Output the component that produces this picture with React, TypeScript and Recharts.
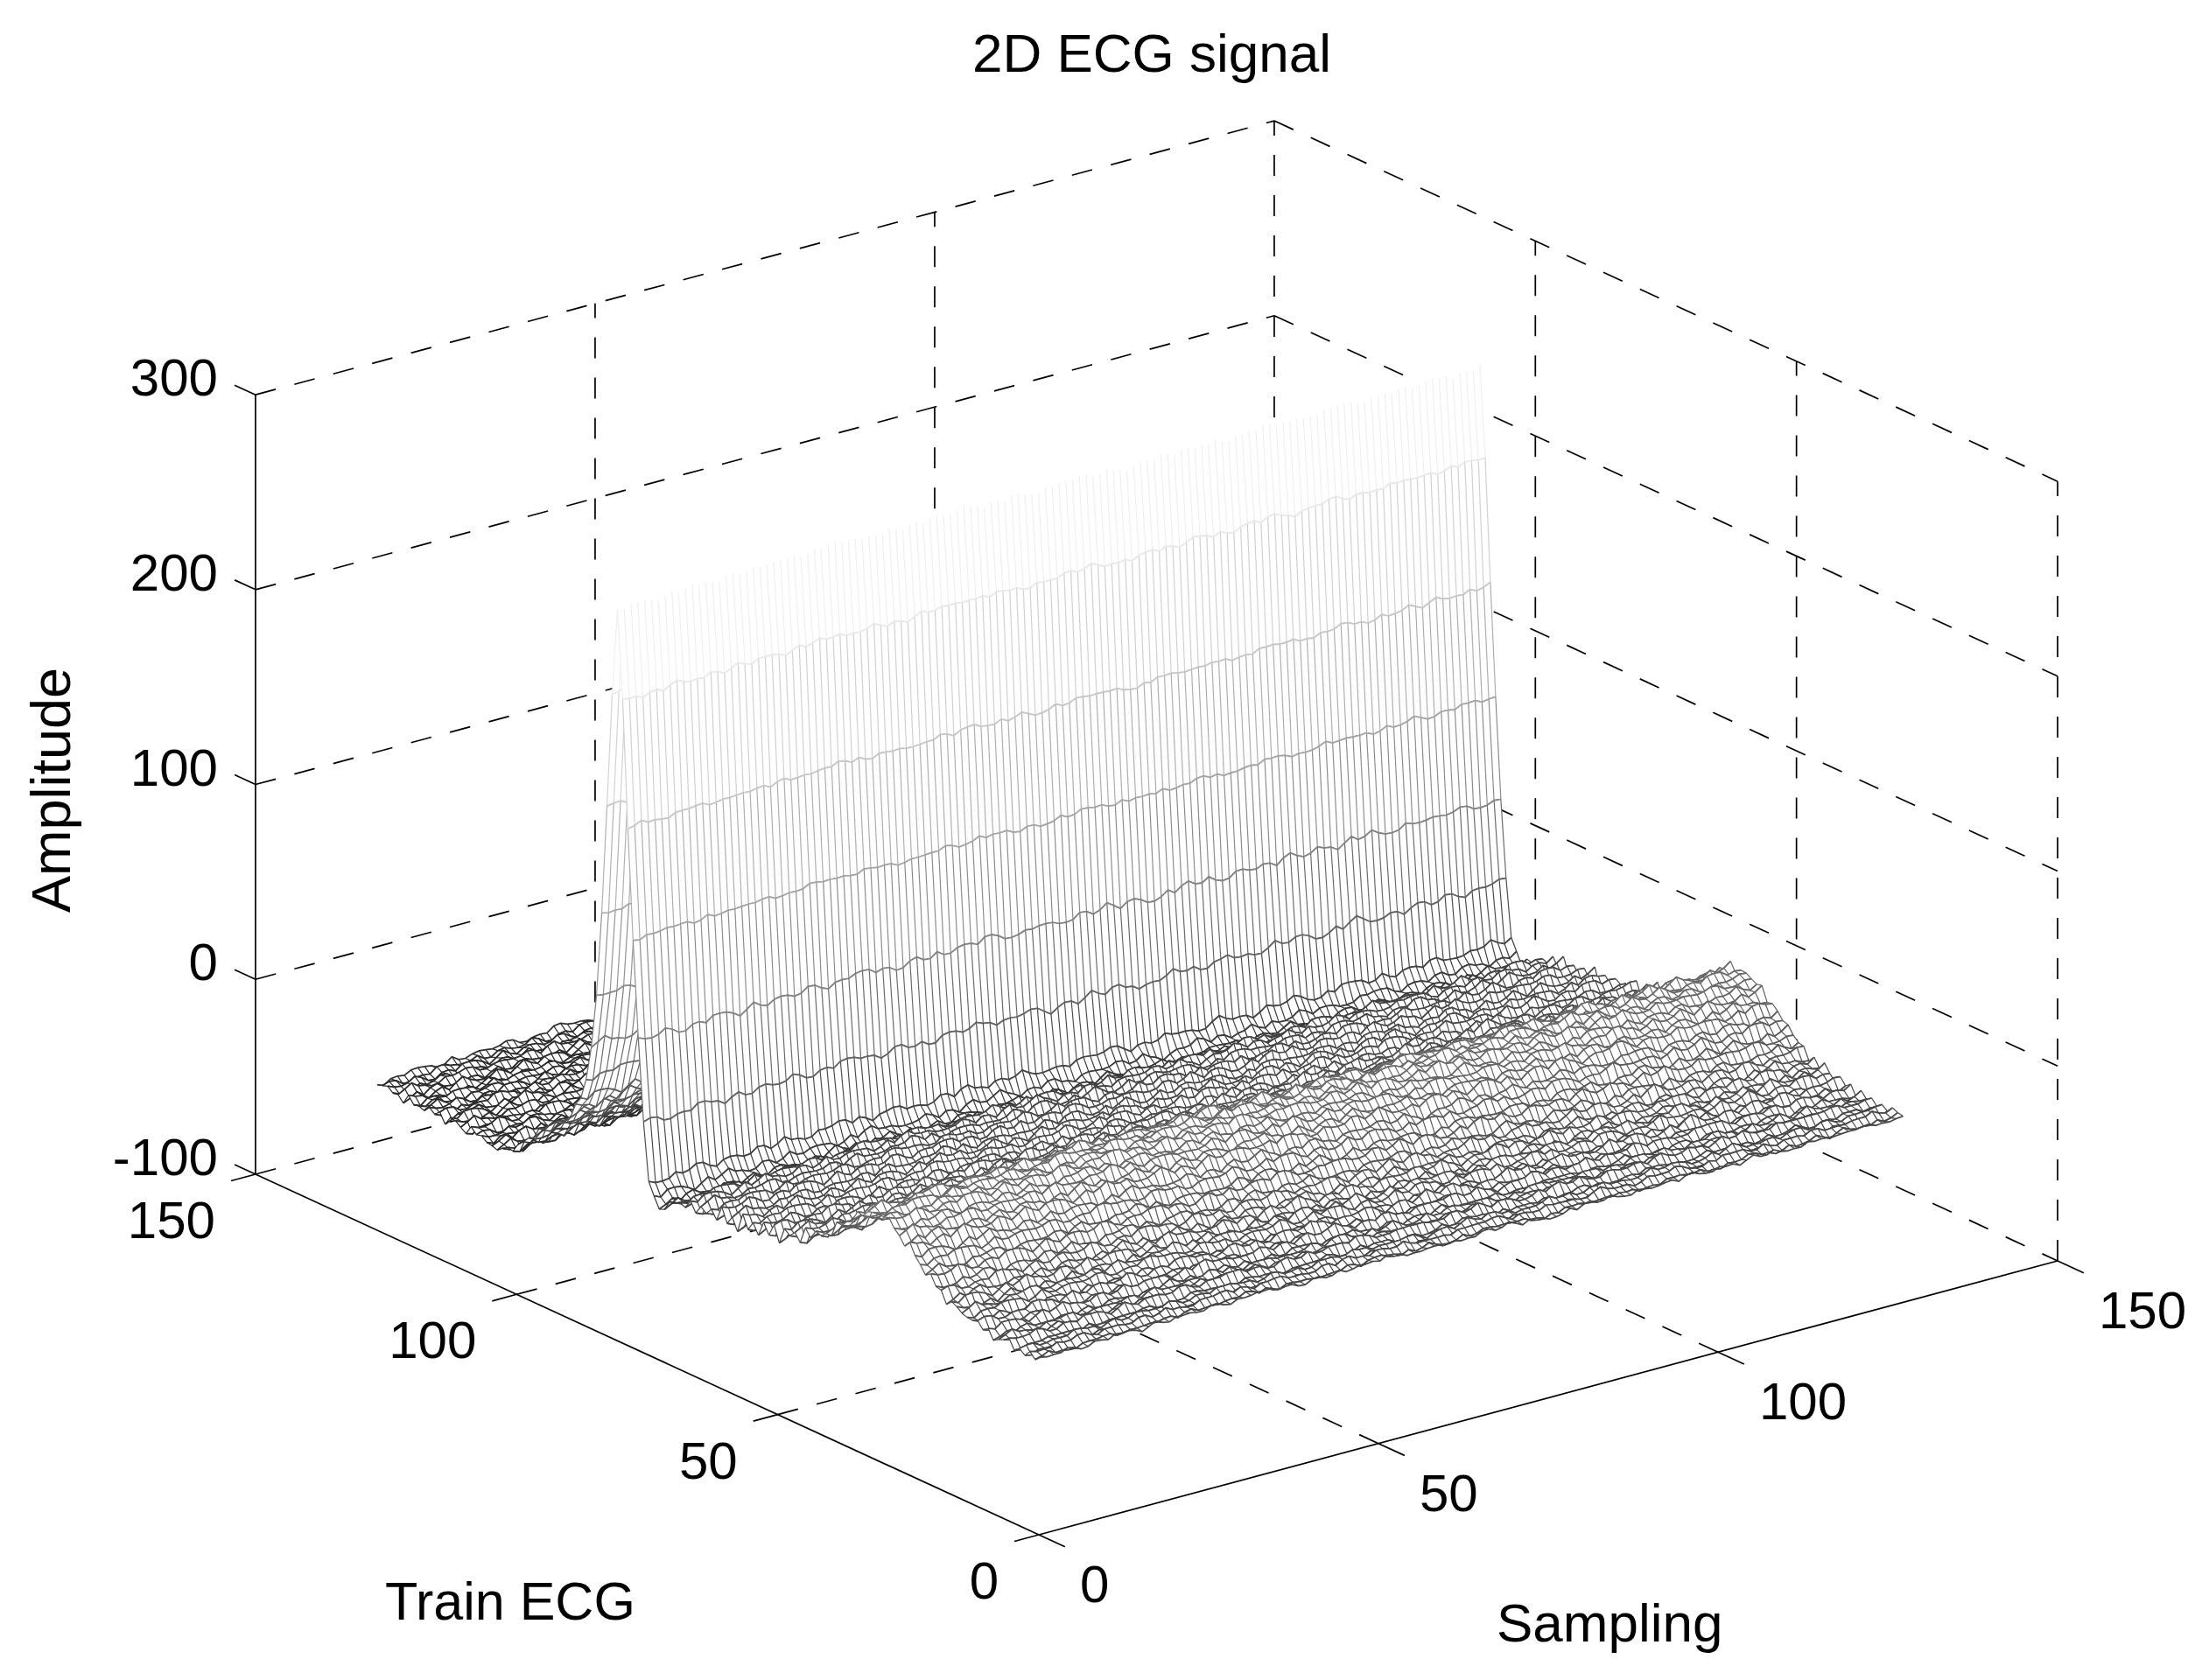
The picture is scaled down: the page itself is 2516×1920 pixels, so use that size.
import React from 'react'
import { ScatterChart, Scatter, XAxis, YAxis } from 'recharts'

const W = 2516
const H = 1920

// amplitude across the train axis, index 0 = train 1 ... index 127 = train 128
const trainProfile = [
  -9, -10, -8, -11, -9, -10, -7, -9, -8, -9, -6, -8, -5, -7, -4, -3, -4, -1, -1, 2,
  3, 7, 8, 12, 14, 18, 19, 22, 23, 26, 26, 28, 25, 27, 22, 23, 17, 17, 11, 11,
  6, 7, 2, 3, -2, 1, -5, -1, -7, -3, -9, -4, -10, -6, -11, -6, -12, -7, -13, -8,
  -14, -8, -15, -9, -15, -10, -16, -11, -16, -13, -17, -18, -20, -20, -17, -11, 18, 59, 110, 166,
  230, 276, 232, 172, 116, 72, 46, 28, 16, 10, 6, 2, -1, -4, -6, -8, -11, -14, -17, -20,
  -23, -26, -28, -30, -29, -27, -29, -27, -28, -26, -28, -26, -27, -25, -27, -25, -27, -26, -26, -25,
  -27, -25, -26, -24, -26, -25, -25, -24,
]

// slow change along the sampling axis, index 0 = sample 1
const sampleDrift = [
  -3, -3, -2, -3, -2, -2, -3, -2, -1, -2, -2, -1, -2, -1, -1, -2, -1, 0, -1, -1,
  0, -1, 0, 0, -1, 0, 1, 0, 0, 1, 0, 1, 1, 0, 1, 0, 0, 1, 0, -1,
  0, 0, -1, 0, 1, 0, 1, 1, 0, 1, 1, 2, 1, 1, 0, 1, 0, 0, 1, 0,
  -1, 0, 0, 1, 0, 1, 2, 1, 1, 2, 1, 0, 1, 0, 0, -1, 0, 0, 1, 0,
  1, 1, 0, 1, 2, 1, 1, 0, 1, 0, 0, 1, 1, 2, 1, 2, 2, 1, 1, 0,
  1, 1, 2, 1, 2, 3, 2, 1, 2, 1, 1, 2, 1, 2, 2, 3, 2, 1, 2, 3,
  2, 2, 3, 2, 3, 2, 2, 3,
]

// small stair-like wiggle seen in the mesh rows
const sampleRipple = [
  1.2, 0.3, -0.7, 0.6, 1.4, 0.4, -0.6, -1.4, -0.4, 0.5, -0.5, 0.7, 1.5, 0.6, -0.4, -1.3,
  -0.3, 0.8, -0.1, -1, -0.1, 1, 0.1, -0.9, 0.2, 1.2, 0.3, -0.6, -1.5, -0.6, 0.4, -0.5,
  0.6, 1.6, 0.7, -0.3, 0.5, -0.5, -1.4, -0.5, 0.6, 1.3, 0.4, -0.5, 0.5, -0.4, -1.2, 0.1,
]
const rowShift = [0, 2, 5, 1, 3, 6, 0, 4, 2, 7, 1, 5, 3, 0, 6, 2, 4, 1, 7, 3, 5, 0, 2, 6, 1, 4, 7, 2, 5, 0, 3, 6]
const rowGain = [0.5, 0.5, 0.6, 0.5, 0.6, 0.6, 0.7, 0.6, 0.8, 0.7, 0.8, 0.8, 1, 1, 1, 1]

const zTicks = [-100, 0, 100, 200, 300]
const trainTicks = [0, 50, 100, 150]
const sampleTicks = [0, 50, 100, 150]

const title = '2D ECG signal'
const zLabel = 'Amplitude'
const trainLabel = 'Train ECG'
const sampleLabel = 'Sampling'

// view of the box: sampling axis, train axis and height as screen steps
const project = (s: number, t: number, z: number) => ({
  x: 1187 + 7.76 * s - 5.967 * t,
  y: 1754 - 2.087 * s - 2.747 * t - 2.227 * (z + 100),
})

const height = (ti: number, si: number) => {
  const base = trainProfile[ti]
  const gain = (base > 60 ? 0.5 : 1) * (ti < rowGain.length ? rowGain[ti] : 1) * 1.5
  const shift = rowShift[ti % rowShift.length]
  return base + sampleDrift[si] + gain * sampleRipple[(si + shift) % sampleRipple.length]
}

// edge colour follows height, dark at the floor and white at the R peak
const gray = (z: number) => {
  const f = Math.max(0, Math.min(1, (z + 25) / 300))
  const v = Math.round(255 * (0.17 + 0.83 * Math.pow(f, 0.7)))
  return `rgb(${v},${v},${v})`
}

// one band of the mesh per pair of rows, far row then near row
const strips: { key: number; far: number; near: number; points: { x: number; y: number }[] }[] = []
for (let ti = trainProfile.length - 1; ti > 0; ti--) {
  const points: { x: number; y: number }[] = []
  for (let si = 0; si < sampleDrift.length; si++) points.push(project(si + 1, ti + 1, height(ti, si)))
  for (let si = sampleDrift.length - 1; si >= 0; si--) points.push(project(si + 1, ti, height(ti - 1, si)))
  strips.push({ key: ti, far: trainProfile[ti], near: trainProfile[ti - 1], points })
}

const seg = (a: number[], b: number[]) => [project(a[0], a[1], a[2]), project(b[0], b[1], b[2])]

const dashed: { x: number; y: number }[][] = []
zTicks.forEach((z) => {
  dashed.push(seg([0, 150, z], [150, 150, z]))
  dashed.push(seg([150, 150, z], [150, 0, z]))
})
;[50, 100].forEach((v) => {
  dashed.push(seg([v, 0, -100], [v, 150, -100]))
  dashed.push(seg([0, v, -100], [150, v, -100]))
  dashed.push(seg([v, 150, -100], [v, 150, 300]))
  dashed.push(seg([150, v, -100], [150, v, 300]))
})
dashed.push(seg([150, 150, -100], [150, 150, 300]))
dashed.push(seg([150, 0, -100], [150, 0, 300]))

const solid: { x: number; y: number }[][] = [
  seg([0, 150, -100], [0, 0, -100]),
  seg([0, 0, -100], [150, 0, -100]),
  seg([0, 150, -100], [0, 150, 300]),
  ...zTicks.map((z) => seg([0, 150, z], [0, 154, z])),
  ...trainTicks.map((t) => seg([0, t, -100], [-3.6, t, -100])),
  ...sampleTicks.map((s) => seg([s, 0, -100], [s, -5, -100])),
]

type Txt = { x: number; y: number; label: string; anchor: string; size: number; rotate?: boolean }
const offset = (p: { x: number; y: number }, dx: number, dy: number) => ({ x: p.x + dx, y: p.y + dy })
const texts: Txt[] = [
  { x: 1316, y: 82, label: title, anchor: 'middle', size: 62 },
  { x: 80, y: 903, label: zLabel, anchor: 'middle', size: 63, rotate: true },
  { x: 440, y: 1851, label: trainLabel, anchor: 'start', size: 61 },
  { x: 1710, y: 1876, label: sampleLabel, anchor: 'start', size: 62 },
  ...zTicks.map((z) => ({ ...offset(project(0, 150, z), -43, 1), label: String(z), anchor: 'end', size: 60 })),
  ...trainTicks.map((t) => ({ ...offset(project(0, t, -100), -46, 73), label: String(t), anchor: 'end', size: 60 })),
  ...sampleTicks.map((s) => ({ ...offset(project(s, 0, -100), 47, 77), label: String(s), anchor: 'start', size: 60 })),
]

const NoDot = () => null

const TextDot = (p: any) => {
  const d: Txt = p.payload
  return (
    <text
      x={p.cx}
      y={p.cy}
      textAnchor={d.anchor}
      fontFamily="'Liberation Sans', Arial, sans-serif"
      fontSize={d.size}
      fill="#000"
      transform={d.rotate ? `rotate(-90 ${p.cx} ${p.cy})` : undefined}
    >
      {d.label}
    </text>
  )
}

// white faces hide whatever lies behind the band, then the edges go on top
const meshBand = (far: number, near: number) => (p: any) => {
  const pts: { x: number; y: number }[] = p.points
  const n = pts.length / 2
  let faces = ''
  let cross = ''
  let farRow = ''
  let nearRow = ''
  for (let i = 0; i < n; i++) {
    const a = pts[i]
    const b = pts[2 * n - 1 - i]
    cross += `M${a.x} ${a.y}L${b.x} ${b.y}`
    farRow += `${i ? 'L' : 'M'}${a.x} ${a.y}`
    nearRow += `${i ? 'L' : 'M'}${b.x} ${b.y}`
    if (i < n - 1) {
      const c = pts[i + 1]
      const d = pts[2 * n - 2 - i]
      faces += `M${a.x} ${a.y}L${c.x} ${c.y}L${d.x} ${d.y}L${b.x} ${b.y}Z`
    }
  }
  const low = Math.min(far, near)
  const crossZ = low + 0.3 * Math.abs(far - near)
  return (
    <g>
      <path d={faces} fill="#fff" stroke="none" />
      <path d={cross} fill="none" stroke={gray(crossZ)} strokeWidth={1.2} />
      <path d={nearRow} fill="none" stroke={gray(near)} strokeWidth={1.7} />
      <path d={farRow} fill="none" stroke={gray(far)} strokeWidth={1.7} />
    </g>
  )
}

export default function App() {
  return (
    <div style={{ position: 'absolute', left: 0, top: 0, width: W, height: H, background: '#fff' }}>
      <ScatterChart width={W} height={H} margin={{ top: 0, right: 0, bottom: 0, left: 0 }}>
        <XAxis type="number" dataKey="x" domain={[0, W]} hide />
        <YAxis type="number" dataKey="y" domain={[0, H]} reversed hide />
        {dashed.map((d, i) => (
          <Scatter
            key={`d${i}`}
            data={d}
            shape={NoDot}
            line={{ stroke: '#000', strokeWidth: 1.7, strokeDasharray: '24 22' }}
            isAnimationActive={false}
          />
        ))}
        {solid.map((d, i) => (
          <Scatter
            key={`s${i}`}
            data={d}
            shape={NoDot}
            line={{ stroke: '#000', strokeWidth: 1.7 }}
            isAnimationActive={false}
          />
        ))}
        {strips.map((b) => (
          <Scatter
            key={`b${b.key}`}
            data={b.points}
            shape={NoDot}
            line={meshBand(b.far, b.near)}
            isAnimationActive={false}
          />
        ))}
        <Scatter data={texts} shape={TextDot} isAnimationActive={false} />
      </ScatterChart>
    </div>
  )
}
